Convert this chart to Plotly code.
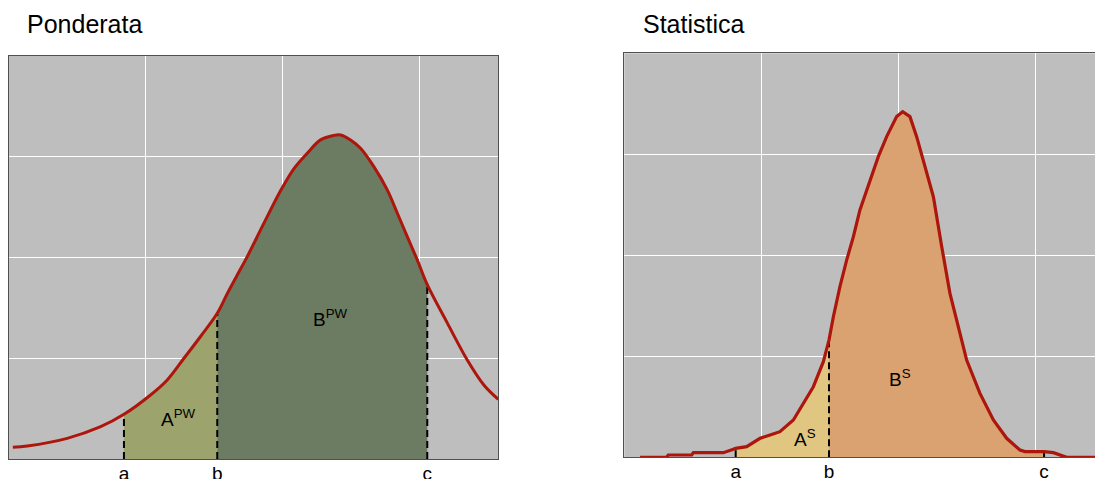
import numpy as np
import plotly.graph_objects as go

# ---------------- data ----------------
tick_labels = ["a", "b", "c"]
pw_ticks = [0.842, 1.523, 3.056]
st_ticks = [0.813, 1.494, 3.064]

pw_x = [0.031, 0.136, 0.428, 0.672, 0.842, 1.036, 1.158, 1.280, 1.401, 1.523,
        1.596, 1.669, 1.742, 1.839, 1.912, 1.985, 2.083, 2.180, 2.277, 2.372,
        2.423, 2.496, 2.569, 2.666, 2.764, 2.837, 2.910, 2.983, 3.056, 3.202,
        3.348, 3.469, 3.574]
pw_y = [0.116, 0.129, 0.205, 0.320, 0.443, 0.635, 0.784, 0.999, 1.215, 1.445,
        1.640, 1.825, 2.007, 2.272, 2.470, 2.660, 2.880, 3.033, 3.165, 3.209,
        3.214, 3.165, 3.082, 2.900, 2.669, 2.440, 2.205, 1.975, 1.730, 1.350,
        0.982, 0.734, 0.592]

st_x = [0.115, 0.309, 0.321, 0.492, 0.504, 0.723, 0.796, 0.813, 0.893, 0.991,
        1.064, 1.136, 1.234, 1.307, 1.380, 1.453, 1.494, 1.526, 1.574, 1.623,
        1.672, 1.720, 1.793, 1.854, 1.915, 1.988, 2.032, 2.085, 2.134, 2.195,
        2.256, 2.317, 2.377, 2.426, 2.499, 2.596, 2.694, 2.791, 2.888, 2.925,
        3.064, 3.132, 3.205, 3.229, 3.494]
st_y = [0.000, 0.000, 0.023, 0.023, 0.046, 0.046, 0.079, 0.089, 0.105, 0.188,
        0.221, 0.254, 0.369, 0.534, 0.699, 0.947, 1.161, 1.392, 1.689, 1.953,
        2.184, 2.449, 2.746, 2.977, 3.175, 3.373, 3.422, 3.373, 3.175, 2.878,
        2.580, 2.085, 1.623, 1.359, 0.963, 0.633, 0.369, 0.188, 0.072, 0.056,
        0.056, 0.046, 0.013, 0.000, 0.000]

pw_labels = [("A<sup>PW</sup>", 1.237, 0.41), ("B<sup>PW</sup>", 2.35, 1.40)]
st_labels = [("A<sup>S</sup>", 1.319, 0.19), ("B<sup>S</sup>", 2.012, 0.785)]

# ---------------- style ----------------
FONT = "Liberation Sans, Arial, sans-serif"
BG = "#BEBEBE"
RED = "#AD160C"
PW_FILLS = ["#9CA36D", "#6C7C62"]
ST_FILLS = ["#E0C680", "#DAA270"]
OFF = 8                      # page body margin
W, H = 1103 - OFF, 479 - OFF


def px_x(sx):
    return (sx - OFF) / W


def px_y(sy):
    return (H - (sy - OFF)) / H


def segment(xs, ys, lo, hi):
    sx = [x for x in xs if lo <= x <= hi]
    sy = [y for x, y in zip(xs, ys) if lo <= x <= hi]
    return sx, sy


fig = go.Figure()


def add_panel(xs, ys, ticks, fills, shape, lw, xa, ya):
    for (lo, hi), col in zip([(ticks[0], ticks[1]), (ticks[1], ticks[2])], fills):
        sx, sy = segment(xs, ys, lo, hi)
        fig.add_trace(go.Scatter(x=sx, y=sy, mode="lines", fill="tozeroy",
                                 fillcolor=col, line=dict(width=0, shape=shape),
                                 xaxis=xa, yaxis=ya, hoverinfo="skip"))
    for t in ticks:
        h = float(np.interp(t, xs, ys))
        fig.add_trace(go.Scatter(x=[t, t], y=[0, h], mode="lines",
                                 line=dict(color="black", width=2, dash="7px,4px"),
                                 xaxis=xa, yaxis=ya, hoverinfo="skip"))
    fig.add_trace(go.Scatter(x=xs, y=ys, mode="lines",
                             line=dict(color=RED, width=lw, shape=shape),
                             xaxis=xa, yaxis=ya))


add_panel(pw_x, pw_y, pw_ticks, PW_FILLS, "spline", 3.0, "x", "y")
add_panel(st_x, st_y, st_ticks, ST_FILLS, "linear", 3.2, "x2", "y2")

for txt, x, y in pw_labels:
    fig.add_annotation(x=x, y=y, xref="x", yref="y", text=txt, showarrow=False,
                       font=dict(size=19, color="black", family=FONT))
for txt, x, y in st_labels:
    fig.add_annotation(x=x, y=y, xref="x2", yref="y2", text=txt, showarrow=False,
                       font=dict(size=19, color="black", family=FONT))

fig.add_annotation(x=px_x(24.5), y=px_y(24), xref="paper", yref="paper", text="Ponderata",
                   showarrow=False, xanchor="left", yanchor="middle",
                   font=dict(size=25, color="black", family=FONT))
fig.add_annotation(x=px_x(640.5), y=px_y(24), xref="paper", yref="paper", text="Statistica",
                   showarrow=False, xanchor="left", yanchor="middle",
                   font=dict(size=25, color="black", family=FONT))

xcommon = dict(showgrid=False, zeroline=False, ticks="", automargin=False,
               ticklabelstandoff=-3, showline=True,
               linecolor="#505050", linewidth=1.2,
               tickfont=dict(size=19, color="black", family=FONT),
               minor=dict(tickvals=[1, 2, 3], showgrid=True, gridcolor="white", gridwidth=1))
ycommon = dict(range=[0, 4], tickvals=[1, 2, 3], showticklabels=False, showgrid=True,
               gridcolor="white", gridwidth=1, zeroline=False, ticks="", showline=True,
               automargin=False, linecolor="#505050", linewidth=1.2)

fig.update_layout(
    width=W, height=H,
    margin=dict(l=0, r=0, t=0, b=0),
    paper_bgcolor="white", plot_bgcolor=BG,
    showlegend=False,
    xaxis=dict(domain=[px_x(8.6), px_x(498)], range=[0, 489.4 / 137], anchor="y",
               tickvals=pw_ticks, ticktext=tick_labels, mirror=True, **xcommon),
    yaxis=dict(domain=[px_y(459), px_y(55.7)], anchor="x", mirror=True, **ycommon),
    xaxis2=dict(domain=[px_x(624.3), 1.0], range=[0, (1103 - 624.3) / 137], anchor="y2",
                tickvals=st_ticks, ticktext=tick_labels, mirror=True, **xcommon),
    yaxis2=dict(domain=[px_y(457.3), px_y(53.3)], anchor="x2", mirror=False, **ycommon),
)

fig.write_html("out.html")
